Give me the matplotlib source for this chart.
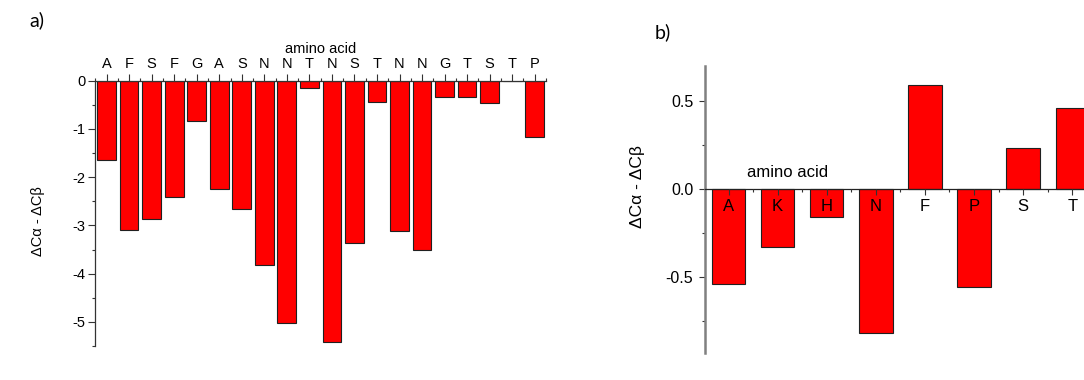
import matplotlib
matplotlib.use("Agg")
import matplotlib.pyplot as plt
import numpy as np
from matplotlib.ticker import MultipleLocator, FixedLocator

plt.rcParams["font.family"] = ["Liberation Sans", "DejaVu Sans"]

# panel a: shift difference per residue of the peptide
seq_a = ["A", "F", "S", "F", "G", "A", "S", "N", "N", "T",
         "N", "S", "T", "N", "N", "G", "T", "S", "T", "P"]
dcadcb_a = [-1.64, -3.10, -2.87, -2.41, -0.84, -2.24, -2.67, -3.82, -5.02, -0.15,
            -5.42, -3.37, -0.45, -3.12, -3.52, -0.34, -0.34, -0.47, 0.0, -1.16]

# panel b: averaged per amino acid type
aa_b = ["A", "K", "H", "N", "F", "P", "S", "T"]
dcadcb_b = [-0.54, -0.33, -0.16, -0.82, 0.59, -0.56, 0.23, 0.46]

ylabel = "ΔCα - ΔCβ"
red = "#ff0000"
edge = "#202020"

fig = plt.figure(figsize=(10.84, 3.80), dpi=100)

# ---- panel a
ax = fig.add_axes([0.0879, 0.0895, 0.4158, 0.6981])
xa = np.arange(1, len(seq_a) + 1)
ax.bar(xa, dcadcb_a, width=0.83, color=red, edgecolor=edge, linewidth=0.8, zorder=2)
ax.set_xlim(0.5, len(seq_a) + 0.5)
ax.set_ylim(-5.5, 0)
ax.xaxis.tick_top()
ax.xaxis.set_label_position("top")
ax.set_xticks(xa)
ax.set_xticklabels(seq_a, fontsize=10.5)
ax.xaxis.set_minor_locator(MultipleLocator(0.5))
ax.set_xlabel("amino acid", fontsize=10.5, labelpad=3)
ax.yaxis.set_minor_locator(MultipleLocator(0.5))
ax.set_yticks(range(0, -6, -1))
ax.set_yticklabels(["0", "-1", "-2", "-3", "-4", "-5"], fontsize=10.5)
ax.tick_params(which="major", length=5, width=0.8, color="#333", pad=2)
ax.tick_params(which="minor", length=2.5, width=0.8, color="#333")
ax.set_ylabel(ylabel, fontsize=10.5)
ax.yaxis.set_label_coords(-0.111, 0.47)
for s in ("bottom", "right"):
    ax.spines[s].set_visible(False)
for s in ("top", "left"):
    ax.spines[s].set_color("#333")
    ax.spines[s].set_linewidth(0.9)
ax.set_facecolor("none")
fig.text(0.027, 0.948, "a)", fontsize=14, family=["Lato", "DejaVu Sans"], va="center")

# ---- panel b
bx = fig.add_axes([0.6504, 0.0703, 0.3496, 0.7568])
xb = np.arange(1, len(aa_b) + 1)
bx.bar(xb, dcadcb_b, width=0.68, color=red, edgecolor=edge, linewidth=0.8, zorder=1)
bx.set_xlim(0.52, 8.24)
bx.set_ylim(-0.935, 0.70)
bx.spines["bottom"].set_position(("data", 0))
bx.spines["bottom"].set_color("#222")
bx.spines["bottom"].set_linewidth(0.9)
bx.spines["bottom"].set_zorder(3)
bx.spines["left"].set_color("#808080")
bx.spines["left"].set_linewidth(1.8)
for s in ("top", "right"):
    bx.spines[s].set_visible(False)
bx.xaxis.set_zorder(3)
bx.set_xticks(xb)
bx.set_xticklabels(aa_b, fontsize=12)
bx.xaxis.set_minor_locator(FixedLocator(xb[:-1] + 0.5))
bx.set_yticks([-0.5, 0.0, 0.5])
bx.set_yticklabels(["-0.5", "0.0", "0.5"], fontsize=11.5)
bx.yaxis.set_minor_locator(FixedLocator([-0.75, -0.25, 0.25]))
bx.tick_params(which="major", length=4.5, width=0.8, color="#333", pad=4)
bx.tick_params(which="minor", length=2.5, width=0.8, color="#333")
bx.tick_params(axis="x", which="major", pad=3)
bx.set_ylabel(ylabel, fontsize=12.5)
bx.yaxis.set_label_coords(-0.158, 0.58)
bx.text(0.11, 0.63, "amino acid", transform=bx.transAxes, fontsize=12, va="center")
fig.text(0.604, 0.916, "b)", fontsize=14, family=["Lato", "DejaVu Sans"], va="center")

fig.savefig("out.png", dpi=100)
